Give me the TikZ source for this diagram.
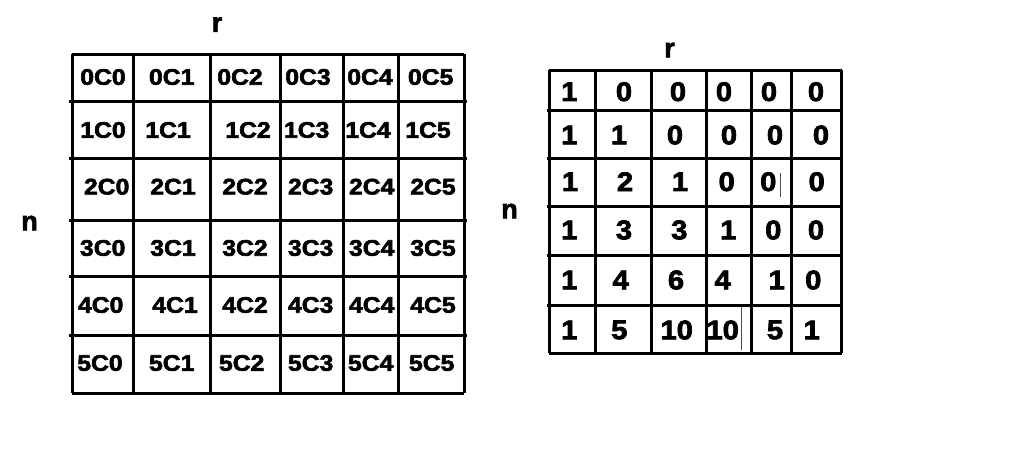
\documentclass[tikz,border=0pt]{standalone}
\usepackage{fontspec}
\setmainfont{Liberation Sans}
\newfontfamily\heavy{Liberation Sans}[BoldFeatures={FakeBold=2.5}]
\begin{document}
\begin{tikzpicture}[x=1pt,y=-1pt,
  gridline/.style={line width=3pt,black},
  thinbar/.style={line width=1.2pt,black!70},
  lt/.style={inner sep=0pt,font=\heavy\bfseries\fontsize{22.5}{24}\selectfont,xscale=1.1},
  rt/.style={inner sep=0pt,font=\heavy\bfseries\fontsize{27}{29}\selectfont,xscale=1.08},
  lab/.style={inner sep=0pt,font=\heavy\bfseries\fontsize{27}{29}\selectfont}]
\useasboundingbox (0,0) rectangle (1024,453);
% labels
\node[lab] (rL) at (217,24.5) {r};
\node[lab] (nL) at (29.5,223) {n};
\node[lab] (rR) at (669.5,50) {r};
\node[lab] (nR) at (509.5,211) {n};
% left grid
\foreach \x in {72,133,210,280,343,398,464}
  \draw[gridline] (\x,54) -- (\x,393);
\draw[gridline] (72,54) -- (464,54);
\draw[gridline] (72,393) -- (464,393);
\foreach \y in {101,158,220,276,335}
  \draw[gridline] (69,\y) -- (467,\y);
% left texts
\foreach \c/\x in {0/103,1/171.7,2/240,3/308,4/370,5/430.7}
  \node[lt] (L0\c) at (\x,77) {0C\c};
\foreach \c/\x in {0/103,1/168,2/248,3/306.7,4/368,5/428}
  \node[lt] (L1\c) at (\x,130) {1C\c};
\foreach \c/\x in {0/106.7,1/173,2/245,3/310.7,4/371.7,5/433}
  \node[lt] (L2\c) at (\x,186.7) {2C\c};
\foreach \c/\x in {0/102.7,1/173,2/245,3/310.7,4/371.7,5/433}
  \node[lt] (L3\c) at (\x,248) {3C\c};
\foreach \c/\x in {0/100.7,1/175,2/245,3/310.7,4/371.7,5/433}
  \node[lt] (L4\c) at (\x,305) {4C\c};
\foreach \c/\x in {0/100,1/171.7,2/241.7,3/310.7,4/370.7,5/431.7}
  \node[lt] (L5\c) at (\x,363) {5C\c};
% right grid
\foreach \x in {549,595,651.7,706,751,791.7,841.7}
  \draw[gridline] (\x,70) -- (\x,353.3);
\draw[gridline] (549,70) -- (841.7,70);
\draw[gridline] (549,353.3) -- (841.7,353.3);
\foreach \y in {110,158.3,206.7,255,305}
  \draw[gridline] (546.5,\y) -- (843,\y);
% right texts
\foreach \c/\x/\v in {0/569.3/1,1/624/0,2/678/0,3/724/0,4/769/0,5/816/0}
  \node[rt] (R0\c) at (\x,91.7) {\v};
\foreach \c/\x/\v in {0/569.3/1,1/619/1,2/675/0,3/729/0,4/775/0,5/821/0}
  \node[rt] (R1\c) at (\x,135) {\v};
\foreach \c/\x/\v in {0/570/1,1/625/2,2/680/1,3/726.7/0,4/768.3/0,5/816.7/0}
  \node[rt] (R2\c) at (\x,181.7) {\v};
\foreach \c/\x/\v in {0/569.3/1,1/624/3,2/679.3/3,3/728.3/1,4/773.3/0,5/816/0}
  \node[rt] (R3\c) at (\x,230) {\v};
\foreach \c/\x/\v in {0/569.3/1,1/620.7/4,2/676/6,3/722.7/4,4/776.7/1,5/813.3/0}
  \node[rt] (R4\c) at (\x,280) {\v};
\foreach \c/\x/\v in {0/569.3/1,1/619.3/5,2/676.7/10,3/722.7/10,4/775/5,5/811.7/1}
  \node[rt] (R5\c) at (\x,330) {\v};
% small stray bars
\draw[thinbar] (780.7,173) -- (780.7,197);
\draw[thinbar] (741.7,307) -- (741.7,350);
\end{tikzpicture}
\end{document}
